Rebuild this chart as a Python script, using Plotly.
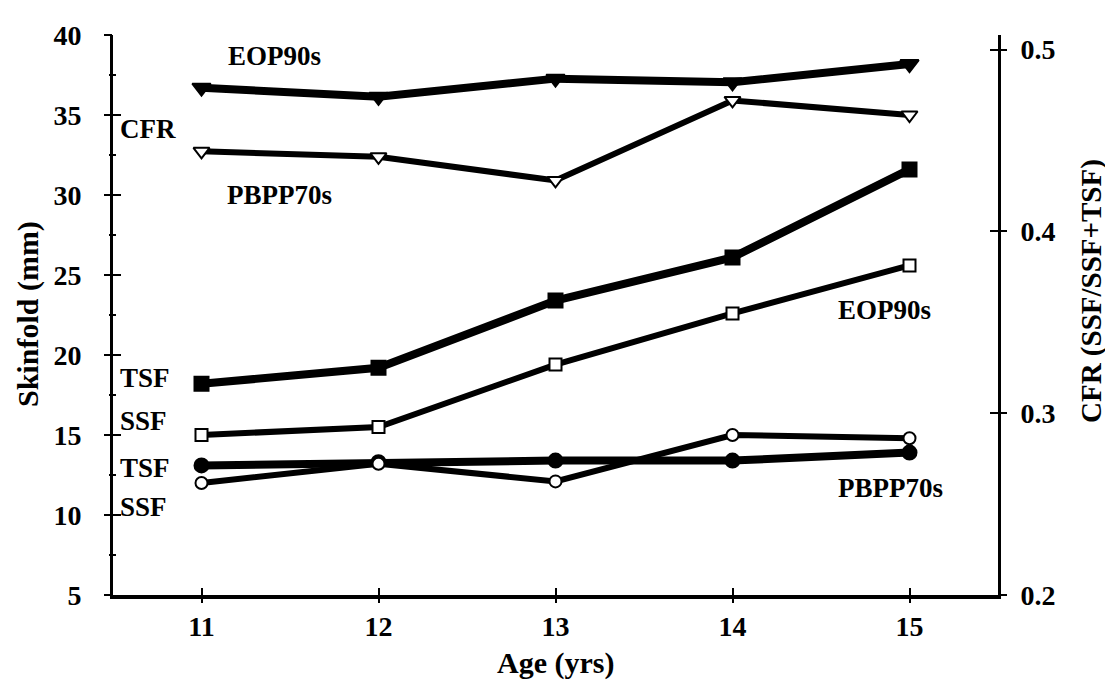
import plotly.graph_objects as go

# ---- data ----
ages = [11, 12, 13, 14, 15]
eop_tsf = [18.2, 19.2, 23.4, 26.1, 31.6]
eop_ssf = [15.0, 15.5, 19.4, 22.6, 25.6]
pbpp_tsf = [13.1, 13.3, 13.4, 13.4, 13.9]
pbpp_ssf = [12.0, 13.2, 12.1, 15.0, 14.8]
eop_cfr = [0.479, 0.474, 0.484, 0.482, 0.492]
pbpp_cfr = [0.444, 0.441, 0.428, 0.472, 0.464]

x_ticks = [11, 12, 13, 14, 15]
y_left_ticks = [5, 10, 15, 20, 25, 30, 35, 40]
y_right_ticks = [0.2, 0.3, 0.4, 0.5]

FONT = "Liberation Serif"
BLACK = "#000000"

fig = go.Figure()

def add(y, symbol, lw, msize, filled, yaxis="y", mlw=2):
    fig.add_trace(go.Scatter(
        x=ages, y=y, mode="lines+markers", yaxis=yaxis,
        line=dict(color=BLACK, width=lw),
        marker=dict(symbol=symbol, size=msize,
                    color=BLACK if filled else "white",
                    line=dict(color=BLACK, width=mlw)),
        showlegend=False, hoverinfo="skip"))

add(eop_tsf, "square", 8, 14, True)
add(eop_ssf, "square", 6, 12, False)
add(pbpp_tsf, "circle", 8, 14, True)
add(pbpp_ssf, "circle", 6, 12, False)
add(eop_cfr, "triangle-down", 8, 16, True, yaxis="y2")
add(pbpp_cfr, "triangle-down", 6, 14, False, yaxis="y2")

# dummy traces for overlay axes giving crossing ticks
fig.add_trace(go.Scatter(x=[], y=[], xaxis="x2", yaxis="y3", showlegend=False, hoverinfo="skip"))
fig.add_trace(go.Scatter(x=[], y=[], xaxis="x2", yaxis="y4", showlegend=False, hoverinfo="skip"))

tickfont = dict(family=FONT, size=28, color=BLACK, weight="bold")
xr = [10.5, 15.5]
yr = [5, 40]
y2r = [0.2, 0.508]

fig.update_layout(
    width=1105, height=672,
    margin=dict(l=105, r=115, t=24, b=85),
    paper_bgcolor="white", plot_bgcolor="white",
    xaxis=dict(range=xr, tickvals=x_ticks, ticks="inside", ticklen=7, tickwidth=2,
               tickcolor=BLACK, showline=True, linewidth=4, linecolor=BLACK,
               showgrid=False, zeroline=False, tickfont=tickfont, ticklabelstandoff=3),
    xaxis2=dict(range=xr, tickvals=x_ticks, overlaying="x", anchor="y3", ticks="outside",
                ticklen=7, tickwidth=2, tickcolor=BLACK, showticklabels=False,
                showgrid=False, zeroline=False, showline=False),
    yaxis=dict(range=yr, tickvals=y_left_ticks, ticks="inside", ticklen=8, tickwidth=2,
               tickcolor=BLACK, showline=True, linewidth=3, linecolor=BLACK,
               showgrid=False, zeroline=False, tickfont=tickfont, ticklabelstandoff=23,
               minor=dict(dtick=2.5, tick0=5, ticks="inside", ticklen=3, tickwidth=2,
                          tickcolor=BLACK, showgrid=False)),
    yaxis3=dict(range=yr, tickvals=y_left_ticks, overlaying="y", anchor="x2", side="left",
                ticks="outside", ticklen=8, tickwidth=2, tickcolor=BLACK,
                showticklabels=False, showgrid=False, zeroline=False, showline=False,
                minor=dict(dtick=2.5, tick0=5, ticks="outside", ticklen=3, tickwidth=2,
                           tickcolor=BLACK, showgrid=False)),
    yaxis2=dict(range=y2r, tickvals=y_right_ticks, overlaying="y", side="right",
                ticks="inside", ticklen=8, tickwidth=2, tickcolor=BLACK,
                showline=True, linewidth=3, linecolor=BLACK, showgrid=False,
                zeroline=False, tickfont=tickfont, ticklabelstandoff=14,
                tickformat=".1f"),
    yaxis4=dict(range=y2r, tickvals=y_right_ticks, overlaying="y", anchor="x2", side="right",
                ticks="outside", ticklen=8, tickwidth=2, tickcolor=BLACK,
                showticklabels=False, showgrid=False, zeroline=False, showline=False),
)

ann_font = dict(family=FONT, size=27, color=BLACK, weight="bold")
labels = [
    ("EOP90s", 11.41, 38.7, "center"),
    ("CFR", 10.53, 34.1, "left"),
    ("PBPP70s", 11.44, 30.0, "center"),
    ("TSF", 10.53, 18.55, "left"),
    ("SSF", 10.53, 15.88, "left"),
    ("TSF", 10.53, 12.96, "left"),
    ("SSF", 10.53, 10.47, "left"),
    ("EOP90s", 14.86, 22.84, "center"),
    ("PBPP70s", 14.89, 11.71, "center"),
]
for t, x, y, xa in labels:
    fig.add_annotation(text=t, x=x, y=y, xref="x", yref="y", xanchor=xa, yanchor="middle",
                       showarrow=False, font=ann_font)

title_font = dict(family=FONT, size=30, color=BLACK, weight="bold")
fig.add_annotation(text="Age (yrs)", xref="paper", yref="paper", x=0.5, y=0,
                   yshift=-68, xanchor="center", yanchor="middle", showarrow=False,
                   font=title_font)
fig.add_annotation(text="Skinfold (mm)", xref="paper", yref="paper", x=0, y=0.5,
                   xshift=-85, yshift=1, xanchor="center", yanchor="middle", textangle=-90,
                   showarrow=False, font=title_font)
fig.add_annotation(text="CFR (SSF/SSF+TSF)", xref="paper", yref="paper", x=1, y=0.5,
                   xshift=93, yshift=24, xanchor="center", yanchor="middle", textangle=-90,
                   showarrow=False, font=dict(family=FONT, size=29, color=BLACK, weight="bold"))

fig.write_html("out.html")
